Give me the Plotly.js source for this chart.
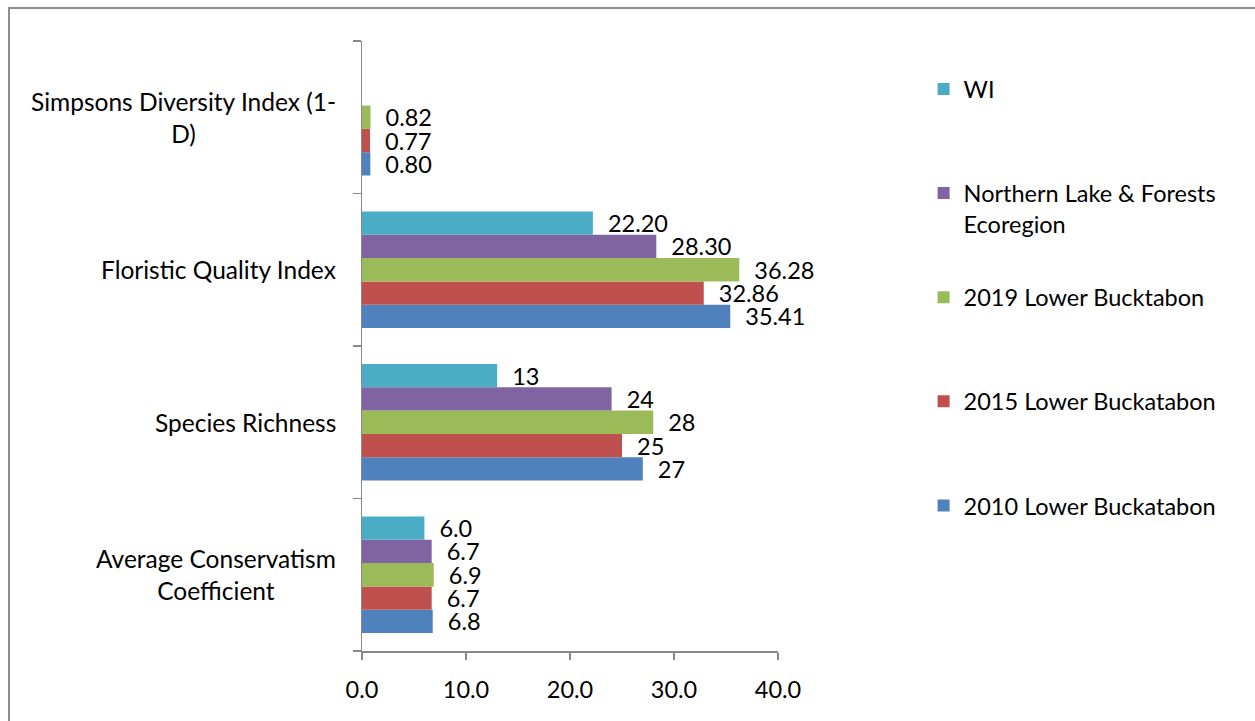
<!DOCTYPE html>
<html>
<head>
<meta charset="utf-8">
<script src="https://cdn.plot.ly/plotly-3.0.1.min.js"></script>
<style>
  html, body { margin: 0; padding: 0; background: #fff; overflow: hidden; }
  #chart { width: 1255px; height: 721px; position: absolute; left: 0; top: 0; }
  #frame { position: absolute; left: 8px; top: 7px; width: 1300px; height: 800px;
           border: 2px solid #8c8c8c; box-sizing: border-box; pointer-events: none; z-index: 5; }
</style>
</head>
<body>
<div id="chart"></div>
<div id="frame"></div>
<script>
// Categories, listed bottom to top as they appear on the axis
const categories = [
  'Average Conservatism Coefficient',
  'Species Richness',
  'Floristic Quality Index',
  'Simpsons Diversity Index (1-D)'
];
const categoryLabels = [
  'Average Conservatism<br>Coefficient',
  'Species Richness',
  'Floristic Quality Index',
  'Simpsons Diversity Index (1-<br>D)'
];
// Decimal places used for the value labels of each category
const labelDecimals = [1, 0, 2, 2];

const seriesNames = [
  '2010 Lower Buckatabon',
  '2015 Lower Buckatabon',
  '2019 Lower Bucktabon',
  'Northern Lake & Forests<br>Ecoregion',
  'WI'
];
const values2010 = [6.8, 27, 35.41, 0.80];
const values2015 = [6.7, 25, 32.86, 0.77];
const values2019 = [6.9, 28, 36.28, 0.82];
const valuesNorthern = [6.7, 24, 28.30, null];
const valuesWI = [6.0, 13, 22.20, null];

const xTickValues = [0, 10, 20, 30, 40];

const seriesValues = [values2010, values2015, values2019, valuesNorthern, valuesWI];
const seriesColors = ['#4F81BD', '#C0504D', '#9BBB59', '#8064A2', '#4BACC6'];

const FONT = 'Lato, "Open Sans", sans-serif';
const FS = 24.5;
const VALUE_FS = 23.5;
const PAD = '\u00a0\u00a0';

const traces = seriesValues.map((vals, i) => ({
  type: 'bar',
  orientation: 'h',
  name: seriesNames[i] + (seriesNames[i].includes('<br>') ? '' : '<br>\u00a0'),
  legendgroup: 'g' + i,
  // last series listed first in the legend
  legendrank: seriesValues.length - i,
  y: categories,
  x: vals,
  marker: { color: seriesColors[i], line: { width: 0 } },
  text: vals.map((v, k) => v === null ? '' : PAD + v.toFixed(labelDecimals[k])),
  textposition: 'outside',
  constraintext: 'none',
  cliponaxis: false,
  textfont: { family: FONT, size: VALUE_FS, color: '#000' },
  hoverinfo: 'none'
}));

const annotations = categories.map((c, k) => ({
  xref: 'paper', yref: 'y',
  x: 0, y: c,
  xanchor: 'right', yanchor: 'middle',
  xshift: -24,
  align: 'center',
  showarrow: false,
  text: categoryLabels[k],
  font: { family: FONT, size: FS, color: '#000' }
}));

const layout = {
  width: 1255, height: 721,
  margin: { l: 362, r: 477, t: 41, b: 70, pad: 0 },
  paper_bgcolor: '#fff',
  plot_bgcolor: '#fff',
  font: { family: FONT, size: FS, color: '#000' },
  barmode: 'group',
  bargap: 0.236,
  bargroupgap: 0,
  showlegend: true,
  legend: {
    x: 1.35, xanchor: 'left',
    y: 0.957, yanchor: 'top',
    traceorder: 'grouped',
    tracegroupgap: 40,
    valign: 'top',
    font: { family: FONT, size: VALUE_FS, color: '#000' },
    bgcolor: 'rgba(0,0,0,0)'
  },
  xaxis: {
    range: [0, 40],
    tickvals: xTickValues,
    ticktext: xTickValues.map(v => v.toFixed(1)),
    ticks: 'outside', ticklen: 7, tickwidth: 1.5, tickcolor: '#888',
    ticklabelstandoff: 10,
    showline: true, linecolor: '#888', linewidth: 1.5,
    showgrid: false, zeroline: false,
    tickfont: { family: FONT, size: VALUE_FS, color: '#000' },
    fixedrange: true
  },
  yaxis: {
    type: 'category',
    categoryorder: 'array',
    categoryarray: categories,
    showticklabels: false,
    ticks: 'outside', tickson: 'boundaries', ticklen: 8, tickwidth: 1.5, tickcolor: '#888',
    showline: true, linecolor: '#888', linewidth: 1.5,
    showgrid: false, zeroline: false,
    fixedrange: true
  },
  annotations: annotations
};

Plotly.newPlot('chart', traces, layout, { staticPlot: true, displayModeBar: false });
</script>
</body>
</html>
